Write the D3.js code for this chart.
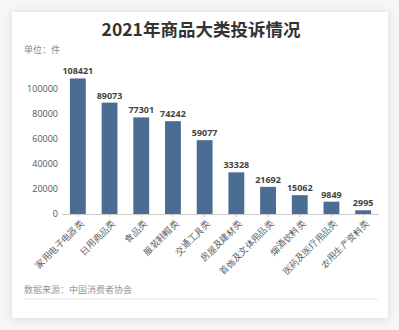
<!DOCTYPE html>
<html><head><meta charset="utf-8">
<script src="https://cdn.jsdelivr.net/npm/d3@7"></script>
<style>
html,body{margin:0;padding:0;background:#f4f4f4;}
svg{display:block;font-family:"Noto Sans CJK SC","Noto Sans",sans-serif;}
</style></head>
<body>
<svg id="c" width="399" height="330"></svg>
<script>
const categories = ["家用电子电器类","日用商品类","食品类","服装鞋帽类","交通工具类","房屋及建材类","首饰及文体用品类","烟酒饮料类","医药及医疗用品类","农用生产资料类"];
const values = [108421,89073,77301,74242,59077,33328,21692,15062,9849,2995];
const yTicks = [0,20000,40000,60000,80000,100000];

const svg = d3.select("#c");
const defs = svg.append("defs");
const f = defs.append("filter").attr("id","sh").attr("x","-10%").attr("y","-10%").attr("width","120%").attr("height","120%");
f.append("feDropShadow").attr("dx",0).attr("dy",1).attr("stdDeviation",4).attr("flood-color","#000").attr("flood-opacity",0.12);

svg.append("rect").attr("x",0).attr("y",0).attr("width",399).attr("height",330).attr("fill","#f6f6f6");
svg.append("rect").attr("x",12).attr("y",12).attr("width",376).attr("height",306).attr("fill","#fff").attr("filter","url(#sh)");

svg.append("text").attr("x",201).attr("y",36).attr("text-anchor","middle")
  .attr("font-size",17.5).attr("font-weight","bold").attr("fill","#333").text("2021年商品大类投诉情况");
svg.append("text").attr("x",24).attr("y",53).attr("font-size",9).attr("fill","#888").text("单位：件");

const x = d3.scaleBand().domain(categories).range([62,379]).paddingInner(0.5).paddingOuter(0.25);
const y = d3.scaleLinear().domain([0,100000]).range([214,89]);

const ya = svg.append("g").attr("transform","translate(60,0)")
  .call(d3.axisLeft(y).tickValues(yTicks).tickSize(0).tickPadding(2).tickFormat(d3.format("d")));
ya.select(".domain").remove();
ya.selectAll("text").attr("font-size",9).attr("fill","#555").attr("font-family","'Open Sans','Noto Sans',sans-serif");

svg.append("g").selectAll("rect").data(values).join("rect")
  .attr("x",(d,i)=>x(categories[i])).attr("width",x.bandwidth())
  .attr("y",d=>y(d)).attr("height",d=>y(0)-y(d)).attr("fill","#4b6d94");

const xa = svg.append("g").attr("transform","translate(0,214)")
  .call(d3.axisBottom(x).tickSize(3).tickPadding(3));
xa.select(".domain").attr("stroke","#ccc").attr("d","M62,0.5H379");
xa.selectAll(".tick line").attr("stroke","#ccc");
xa.selectAll("text").attr("font-size",9).attr("fill","#555")
  .attr("text-anchor","end").attr("dx","-0.3em").attr("dy","0.6em")
  .attr("transform","rotate(-45)");

svg.append("g").selectAll("text").data(values).join("text")
  .attr("x",(d,i)=>x(categories[i])+x.bandwidth()/2).attr("y",d=>y(d)-4)
  .attr("text-anchor","middle").attr("font-size",9).attr("font-weight","bold").attr("fill","#444")
  .attr("font-family","'Open Sans','Noto Sans',sans-serif")
  .text(d=>d);

svg.append("text").attr("x",24).attr("y",293).attr("font-size",9).attr("fill","#999").text("数据来源：中国消费者协会");
svg.append("line").attr("x1",24).attr("x2",378).attr("y1",299).attr("y2",299).attr("stroke","#e6e6e6").attr("stroke-width",1);
</script>
</body></html>
